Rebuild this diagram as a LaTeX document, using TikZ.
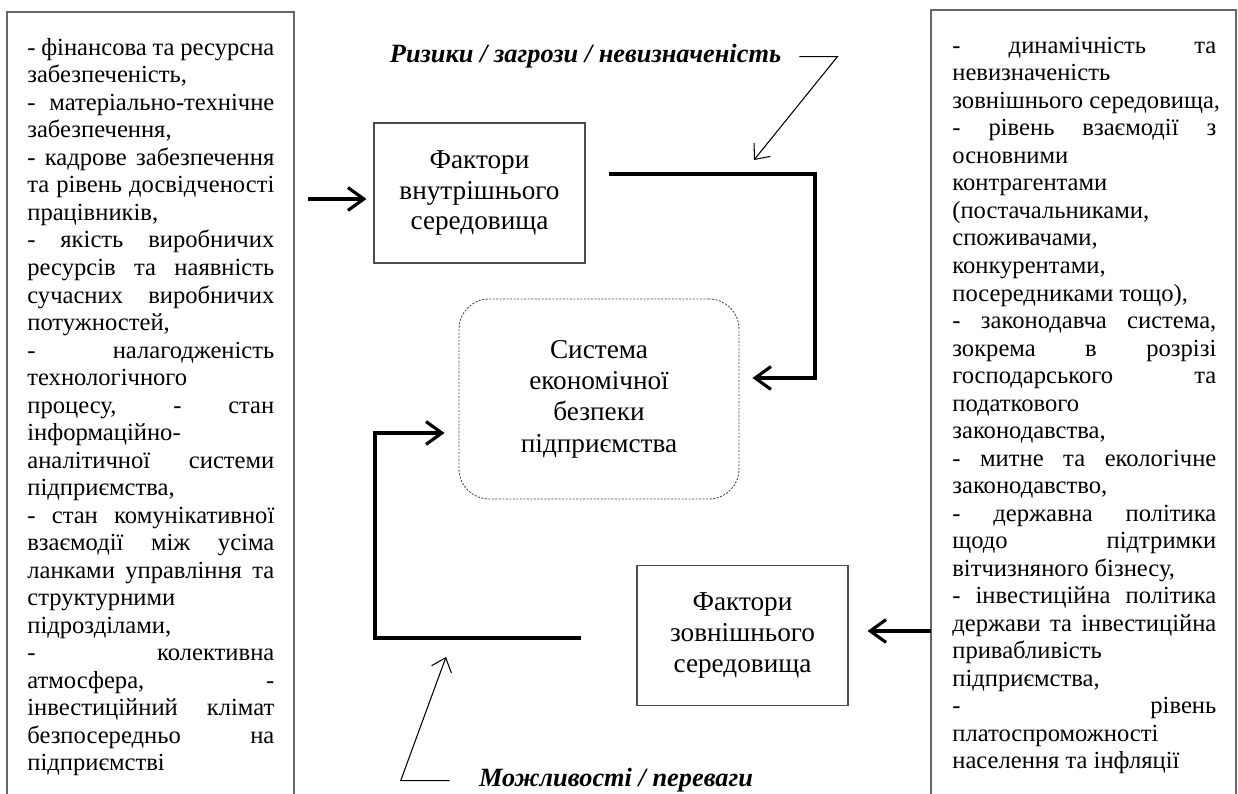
\documentclass[tikz,border=0pt]{standalone}
\usepackage{fontspec}
\setmainfont{Liberation Serif}
\usetikzlibrary{positioning,arrows.meta}

\newcommand{\jl}[1]{\makebox[\linewidth][s]{#1}\\}

\begin{document}
\begin{tikzpicture}[
  factor/.style = {draw = black!70, line width = 0.6pt, minimum width = 4.22cm, minimum height = 2.8cm, align = center, font = \fontsize{15.5}{17.6}\selectfont},
  sysbox/.style = {draw = black!70, line width = 0.5pt, dash pattern = on 1.2pt off 0.8pt, rounded corners = 0.6cm, minimum width = 5.6cm, minimum height = 4cm, align = center, font = \fontsize{15.5}{17.8}\selectfont},
  side/.style = {draw = black!60, line width = 0.6pt},
  flow/.style = {line width = 1.8pt, -{Straight Barb[length = 9pt, width = 13pt]}},
  hint/.style = {line width = 0.6pt, -{Straight Barb[length = 7pt, width = 12pt]}},
  note/.style = {inner sep = 0, font = \fontsize{15}{17}\selectfont\bfseries\itshape}
]
\useasboundingbox (0, 0) rectangle (24.76, 15.88);

% side boxes, open at the bottom
\draw[side] (0.14, 0) |- (5.88, 15.64) -- (5.88, 0);
\draw[side] (18.62, 0) |- (24.72, 15.68) -- (24.72, 0);

\node[anchor = base west, inner sep = 0] (inlist) at (0.54, 14.77) {\parbox[t]{4.94cm}{\fontsize{14}{15.65}\selectfont
\jl{- фінансова та ресурсна}
забезпеченість,\\
\jl{- матеріально-технічне}
забезпечення,\\
\jl{- кадрове забезпечення}
\jl{та рівень досвідченості}
працівників,\\
\jl{- якість виробничих}
\jl{ресурсів та наявність}
\jl{сучасних виробничих}
потужностей,\\
\jl{- налагодженість}
технологічного\\
\jl{процесу, - стан}
інформаційно-\\
\jl{аналітичної системи}
підприємства,\\
\jl{- стан комунікативної}
\jl{взаємодії між усіма}
\jl{ланками управління та}
структурними\\
підрозділами,\\
\jl{- колективна}
\jl{атмосфера, -}
\jl{інвестиційний клімат}
\jl{безпосередньо на}
підприємстві}};

\node[anchor = base west, inner sep = 0] (exlist) at (19.04, 14.81) {\parbox[t]{5.28cm}{\fontsize{14}{15.65}\selectfont
\jl{- динамічність та}
невизначеність\\
\mbox{зовнішнього середовища,}\\
\jl{- рівень взаємодії з}
основними\\
контрагентами\\
(постачальниками,\\
споживачами,\\
конкурентами,\\
\mbox{посередниками тощо),}\\
\jl{- законодавча система,}
\jl{зокрема в розрізі}
\jl{господарського та}
податкового\\
законодавства,\\
\jl{- митне та екологічне}
законодавство,\\
\jl{- державна політика}
\jl{щодо підтримки}
\mbox{вітчизняного бізнесу,}\\
\jl{- інвестиційна політика}
\jl{держави та інвестиційна}
привабливість\\
підприємства,\\
\jl{- рівень}
платоспроможності\\
\mbox{населення та інфляції}}};

\node[factor] (internal) at (9.59, 12.02) {Фактори\\внутрішнього\\середовища};
\node[sysbox] (system) at (11.98, 7.90) {Система\\економічної\\безпеки\\підприємства};
\node[factor] (external) at (14.85, 3.17) {Фактори\\зовнішнього\\середовища};

\node[note, anchor = base] (risks) at (11.71, 14.62) {Ризики / загрози / невизначеність};
\node[note, anchor = base] (chances) at (12.32, 0.14) {Можливості / переваги};

\coordinate (inflow) at (6.16, 11.90);
\coordinate (exflow) at (18.62, 3.26);
\coordinate (ra) at (16.30, 12.40);
\coordinate (rb) at (16.30, 8.32);
\coordinate (la) at (7.50, 3.12);
\coordinate (lb) at (7.50, 7.22);
\coordinate (rtip) at (15.08, 12.68);
\coordinate (otip) at (8.92, 2.74);

\draw[flow, shorten >= 0.14cm] (inflow) -- (internal.west |- inflow);
\draw[flow, shorten >= 0.38cm] (exflow) -- (external.east |- exflow);
\draw[flow, shorten <= 0.46cm, shorten >= 0.26cm] (internal.east |- ra) -- (ra) -- (rb) -- (system.east |- rb);
\draw[flow, shorten <= 1.1cm, shorten >= 0.28cm] (external.west |- la) -- (la) -- (lb) -- (system.west |- lb);

\draw[hint] ([xshift = 0.36cm]risks.east) -- ++(0.76, 0) -- (rtip);
\draw[hint] ([xshift = -0.58cm]chances.west) -- ++(-0.98, 0) -- (otip);

\end{tikzpicture}
\end{document}
